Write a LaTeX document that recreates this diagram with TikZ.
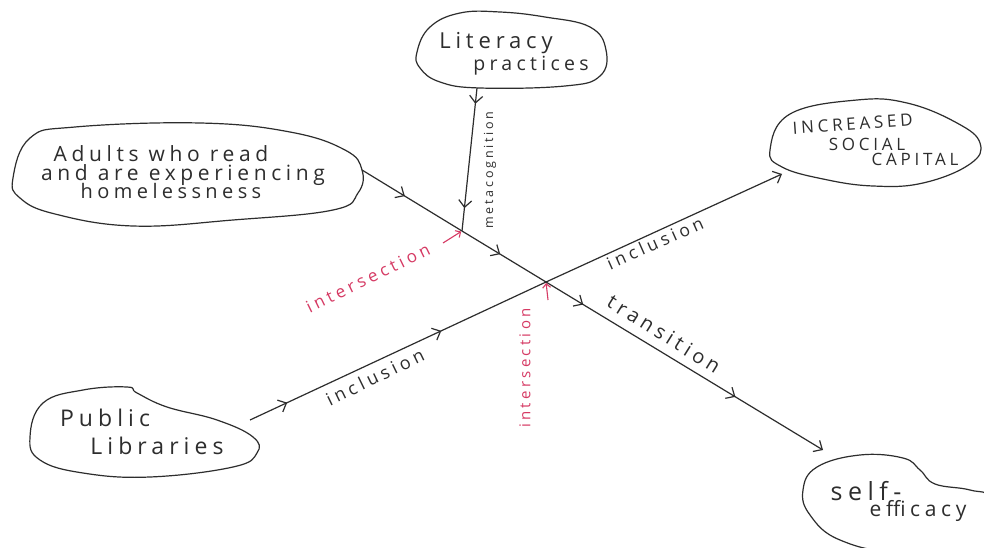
\documentclass[tikz,border=0pt]{standalone}
\usepackage{fontspec}
\newfontfamily\hand[LetterSpace=22]{Open Sans}
\usetikzlibrary{arrows.meta,decorations.markings}
\definecolor{ink}{RGB}{45,45,45}
\definecolor{redink}{RGB}{214,58,100}
\begin{document}
\begin{tikzpicture}[x=1pt,y=-1pt,
  blob/.style={draw=ink,line width=1.2pt},
  txt/.style={text=ink,anchor=base,inner sep=0pt},
  flow/.style={draw=ink,line width=1.2pt},
  endbarb/.style={-{Straight Barb[length=7pt,width=13pt,line width=1.2pt]}},
  midbarb/.style={postaction={decorate,decoration={markings,mark=at position #1 with {\arrow{Straight Barb[length=7pt,width=13pt,line width=1.2pt]}}}}},
  lbl/.style={text=ink,inner sep=0pt,font=\hand\fontsize{18}{18}\selectfont},
  rlbl/.style={text=redink,inner sep=0pt,font=\hand\fontsize{17}{17}\selectfont},
  redarrow/.style={draw=redink,line width=1.1pt,-{Straight Barb[length=4pt,width=8pt,line width=1.1pt]},shorten >=1pt}
]
\fill[white] (0,0) rectangle (984,548);
\useasboundingbox (0,0) rectangle (984,548);

% ---- blobs ----
\draw[blob] plot[smooth cycle,tension=0.7] coordinates {(417,52) (430,27) (460,13) (500,12) (545,17) (590,27) (606,50) (600,76) (565,86) (480,88) (440,82) (420,68)};
\draw[blob] plot[smooth cycle,tension=0.7] coordinates {(13,178) (30,138) (75,127) (200,123) (290,132) (345,150) (362,170) (358,193) (333,210) (233,220) (133,226) (55,214) (20,198)};
\draw[blob] plot[smooth cycle,tension=0.7] coordinates {(770,150) (790,114) (857,100) (907,103) (957,123) (980,143) (970,164) (923,183) (873,186) (823,179) (782,167)};
\draw[blob] plot[smooth cycle,tension=0.7] coordinates {(30,437) (43,403) (83,390) (127,387) (137,393) (167,407) (217,420) (253,437) (257,453) (233,467) (150,477) (83,473) (40,460)};
\draw[blob] plot[smooth cycle,tension=0.7] coordinates {(803,490) (817,467) (860,455) (903,458) (920,470) (935,484) (970,490) (992,500) (995,545) (900,552) (840,540) (810,515)};

% ---- texts ----
\node[txt,font=\hand\fontsize{22}{22}\selectfont] (lit1) at (496,49) {Literacy};
\node[txt,font=\hand\fontsize{19.5}{19.5}\selectfont] (lit2) at (531,71) {practices};
\begin{scope}[font=\hand\fontsize{21}{21}\selectfont]
\node[txt] (ad1) at (161,162) {Adults who read};
\node[txt] (ad2) at (183,180) {and are experiencing};
\node[txt,font=\hand\fontsize{20}{20}\selectfont] (ad3) at (171,198) {homelessness};
\end{scope}
\begin{scope}[font=\hand\fontsize{17}{17}\selectfont]
\node[txt,rotate=4] (isc1) at (853,130) {INCREASED};
\node[txt] (isc2) at (867,151) {SOCIAL};
\node[txt] (isc3) at (915,166) {CAPITAL};
\end{scope}
\begin{scope}[font=\hand\fontsize{23}{23}\selectfont]
\node[txt] (pl1) at (105,426) {Public};
\node[txt] (pl2) at (157,454) {Libraries};
\end{scope}
\node[txt,font=\hand\fontsize{25}{25}\selectfont] (se1) at (866,500) {self-};
\node[txt,font=\hand\fontsize{21}{21}\selectfont] (se2) at (918,516) {efficacy};

% ---- connector end points ----
\coordinate (lp_out) at (477,88);
\coordinate (a_out) at (362,170);
\coordinate (se_in) at (823,450);
\coordinate (pl_out) at (250,420);
\coordinate (isc_in) at (782,174);
\coordinate (x1) at (462,231);
\coordinate (x2) at (546,282);

% ---- connectors ----
\draw[flow,midbarb=0.11,midbarb=0.84] (lp_out) -- (x1);
\draw[flow,endbarb,midbarb=0.093,midbarb=0.30,midbarb=0.48,midbarb=0.81] (a_out) -- (x1) -- (x2) -- (se_in);
\draw[flow,endbarb,midbarb=0.07,midbarb=0.36] (pl_out) -- (x2) -- (isc_in);

% ---- connector labels ----
\node[lbl,rotate=90,font=\hand\fontsize{12.5}{12.5}\selectfont] (meta) at (490,170) {metacognition};
\node[lbl,rotate=26] (inc1) at (375,377) {inclusion};
\node[lbl,rotate=24,font=\hand\fontsize{17.5}{17.5}\selectfont] (inc2) at (655,243) {inclusion};
\node[lbl,rotate=-32,font=\hand\fontsize{20}{20}\selectfont] (trans) at (664,334) {transition};

% ---- red annotations ----
\node[rlbl,rotate=26] (int1) at (368,278) {intersection};
\node[rlbl,rotate=90,font=\hand\fontsize{15}{15}\selectfont] (int2) at (525,368) {intersection};
\coordinate (r1s) at (443,243);
\coordinate (r2s) at (548,300);
\draw[redarrow] (r1s) -- (x1);
\draw[redarrow] (r2s) -- (x2);
\end{tikzpicture}
\end{document}
